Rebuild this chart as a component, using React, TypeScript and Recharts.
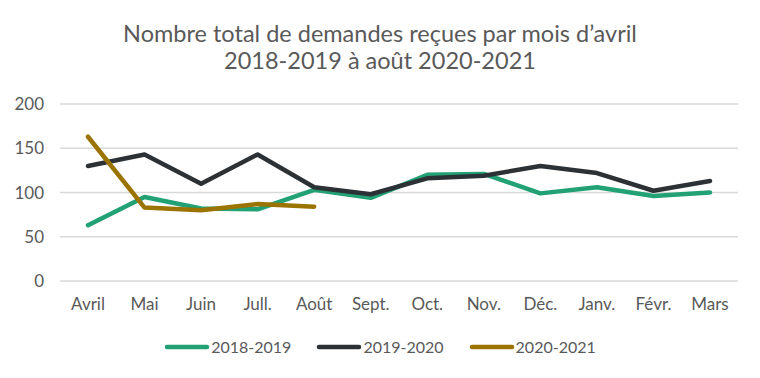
import React from 'react';
import { LineChart, Line, XAxis, YAxis, CartesianGrid } from 'recharts';

const months = ['Avril', 'Mai', 'Juin', 'Jull.', 'Août', 'Sept.', 'Oct.', 'Nov.', 'Déc.', 'Janv.', 'Févr.', 'Mars'];
const values2018 = [63, 95, 82, 81, 103, 94, 120, 121, 99, 106, 96, 100];
const values2019 = [130, 143, 110, 143, 106, 98, 116, 119, 130, 122, 102, 113];
const values2020 = [163, 83, 80, 87, 84];
const yTicks = [0, 50, 100, 150, 200];

const SERIES = [
  { key: 'a', name: '2018-2019', color: '#22a175', values: values2018 },
  { key: 'b', name: '2019-2020', color: '#2c3136', values: values2019 },
  { key: 'c', name: '2020-2021', color: '#9b7300', values: values2020 },
];

const FONT = 'Lato, "Open Sans", sans-serif';
const TEXT = '#595959';

const data = months.map((m, i) => {
  const row: any = { month: m };
  SERIES.forEach((s) => {
    row[s.key] = i < s.values.length ? s.values[i] : null;
  });
  return row;
});

// légende faite à la main, hors du graphique pour ne pas réduire la zone de tracé
const ChartLegend = () => (
  <div
    style={{
      position: 'absolute',
      top: 336,
      left: 0,
      width: 760,
      display: 'flex',
      justifyContent: 'center',
      gap: 25,
      fontFamily: FONT,
      fontSize: 16,
      lineHeight: '22px',
      color: TEXT,
    }}
  >
    {SERIES.map((s) => (
      <div key={s.key} style={{ display: 'flex', alignItems: 'center' }}>
        <svg width={47} height={10}>
          <line x1={3} y1={5} x2={43} y2={5} stroke={s.color} strokeWidth={4.5} strokeLinecap="round" />
        </svg>
        <span>{s.name}</span>
      </div>
    ))}
  </div>
);

export default function App() {
  return (
    <div style={{ position: 'absolute', top: 0, left: 0, width: 760, height: 378, background: '#fff' }}>
      <div
        style={{
          position: 'absolute',
          top: 20,
          left: 0,
          width: 760,
          textAlign: 'center',
          fontFamily: FONT,
          fontSize: 23.5,
          lineHeight: '27px',
          color: TEXT,
        }}
      >
        Nombre total de demandes reçues par mois d’avril
        <br />
        2018-2019 à août 2020-2021
      </div>
      <LineChart width={760} height={378} data={data} margin={{ top: 104, right: 22, left: 16, bottom: 67 }}>
        <CartesianGrid vertical={false} stroke="#d9d9d9" strokeWidth={1.5} />
        <XAxis
          dataKey="month"
          axisLine={false}
          tickLine={false}
          tickSize={0}
          tickMargin={17}
          height={30}
          interval={0}
          padding={{ left: 28, right: 28 }}
          tick={{ fill: TEXT, fontSize: 17, fontFamily: FONT }}
        />
        <YAxis
          domain={[0, 200]}
          ticks={yTicks}
          axisLine={false}
          tickLine={false}
          tickSize={0}
          tickMargin={16}
          width={44}
          tick={{ fill: TEXT, fontSize: 17, fontFamily: FONT }}
        />
        {SERIES.map((s) => (
          <Line
            key={s.key}
            dataKey={s.key}
            name={s.name}
            stroke={s.color}
            strokeWidth={4.5}
            strokeLinecap="round"
            strokeLinejoin="round"
            dot={false}
            activeDot={false}
            isAnimationActive={false}
          />
        ))}
      </LineChart>
      <ChartLegend />
    </div>
  );
}
